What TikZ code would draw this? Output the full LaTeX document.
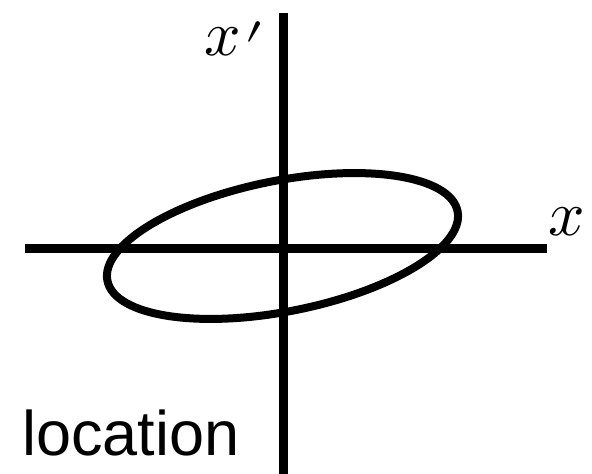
\documentclass[tikz,border=0pt]{standalone}
\usepackage{amsmath}
\usepackage{fontspec}
\usepackage{unicode-math}
\setmathfont{Latin Modern Math}
\newfontfamily\labelfont{Liberation Sans}

\begin{document}
\begin{tikzpicture}[x=1pt,y=-1pt]
    \useasboundingbox (0,0) rectangle (592,474);
    \coordinate (T) at (283,13); \coordinate (B) at (283,474);
    \coordinate (L) at (25,248.5); \coordinate (R) at (547,248.5);
    \coordinate (C) at (282.5,246);
    \draw[line width=9pt] (T) -- (B); \draw[line width=9pt] (L) -- (R);
    \draw[line width=8pt, rotate around={11.2:(C)}]
      (C) ellipse [x radius=178.5pt, y radius=65.4pt];
    \node[anchor=base west, inner sep=0pt, font=\fontsize{64}{70}\selectfont]
      (xp) at (204,55) {$x\mkern1mu\raisebox{-14pt}{$\prime$}$};
    \node[anchor=base west, inner sep=0pt, font=\fontsize{64}{70}\selectfont]
      (xx) at (548,235) {$x$};
    \node[anchor=base west, inner sep=0pt, font=\labelfont\fontsize{63}{70}\selectfont]
      (loc) at (22,455) {location};
  \end{tikzpicture}
\end{document}
